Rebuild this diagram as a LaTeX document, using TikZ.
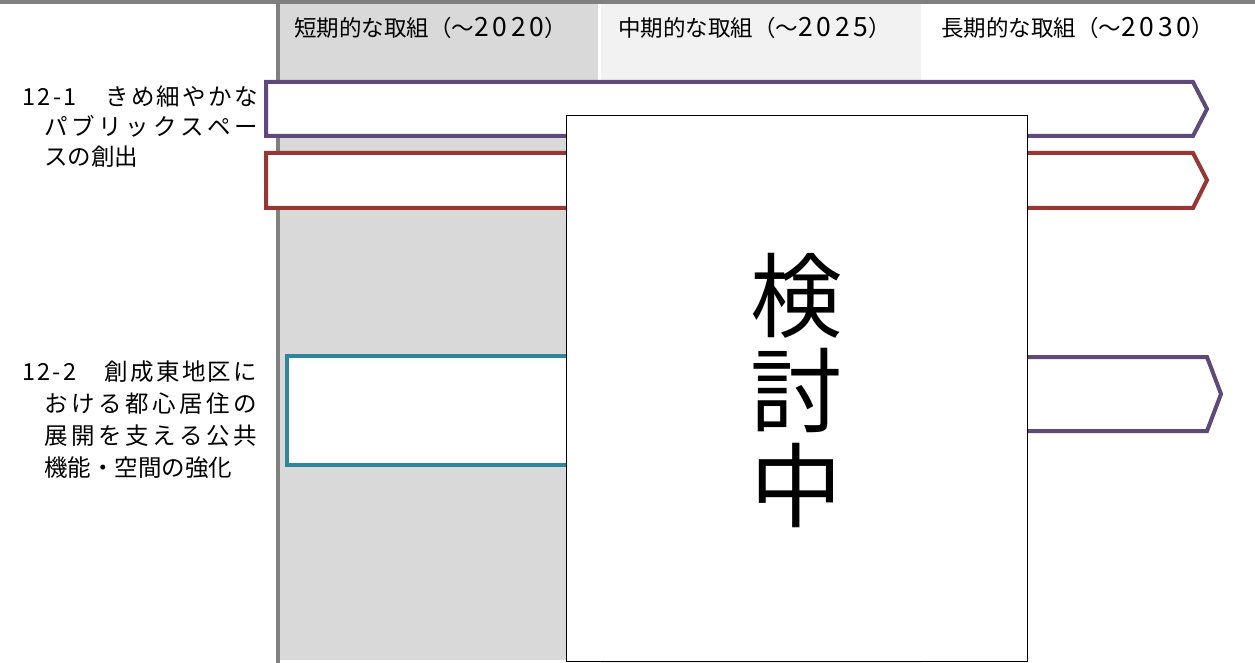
\documentclass[tikz,border=0pt]{standalone}
\usepackage{fontspec}
\setmainfont{Noto Sans CJK JP}
\definecolor{purp}{RGB}{95,73,122}
\definecolor{redd}{RGB}{150,55,52}
\definecolor{tealb}{RGB}{49,133,155}
\definecolor{gline}{RGB}{128,128,128}
\definecolor{colA}{RGB}{217,217,217}
\definecolor{colB}{RGB}{242,242,242}
\def\spreadrest#1{\ifx#1\relax\else\hfil#1\expandafter\spreadrest\fi}
\def\spreadfirst#1{#1\spreadrest}
\newcommand\spreadline[2]{\hbox to #1{\spreadfirst#2\relax}}
\newcommand\dg[1]{{\fontsize{26.5}{28}\selectfont\addfontfeature{LetterSpace=14}#1}}
\begin{document}
\begin{tikzpicture}[x=1pt,y=-1pt,
  hdr/.style={anchor=base west,inner sep=0pt,font=\fontsize{22.5}{24}\selectfont},
  lbl/.style={anchor=base west,inner sep=0pt,font=\fontsize{23.5}{26}\selectfont},
  bar/.style={line width=4pt,line join=miter,fill=white}]
\useasboundingbox (0,0) rectangle (1255,663);
% columns
\fill[colA] (280,4) rectangle (598,660);
\fill[colB] (601,4) rectangle (921,663);
\fill[gline] (276,0) rectangle (280,663);
\fill[gline] (0,0) rectangle (1255,4);
% headers
\node[hdr] (h1) at (294,37) {短期的な取組（～\dg{2020}）};
\node[hdr] (h2) at (618,37) {中期的な取組（～\dg{2025}）};
\node[hdr] (h3) at (941,37) {長期的な取組（～\dg{2030}）};
% bars
\draw[bar,draw=purp] (266,82) -- (1193,82) -- (1207,109) -- (1193,136) -- (266,136) -- cycle;
\draw[bar,draw=redd] (266,153) -- (1193,153) -- (1207,180) -- (1193,208) -- (266,208) -- cycle;
\draw[bar,draw=tealb] (287,356) rectangle (800,465);
\draw[bar,draw=purp] (800,357) -- (1207,357) -- (1221,394) -- (1207,431) -- (800,431) -- cycle;
% white box
\node[draw=black,fill=white,line width=1.2pt,minimum width=461pt,minimum height=546pt,inner sep=0pt,anchor=north west] (box) at (566,115) {};
\node[font=\fontsize{92}{95}\selectfont,align=center,inner sep=0pt] (ktc) at (796,390) {検\\討\\中};
% labels
\node[lbl] (l1a) at (22,106) {\spreadline{236pt}{12-1　きめ細やかな}};
\node[lbl] (l1b) at (44,136) {\spreadline{214pt}{パブリックスペー}};
\node[lbl] (l1c) at (44,166) {スの創出};
\node[lbl] (l2a) at (22,380) {\spreadline{235pt}{12-2　創成東地区に}};
\node[lbl] (l2b) at (44,412) {\spreadline{213pt}{おける都心居住の}};
\node[lbl] (l2c) at (44,444) {\spreadline{213pt}{展開を支える公共}};
\node[lbl] (l2d) at (44,476) {機能・空間の強化};
\end{tikzpicture}
\end{document}
